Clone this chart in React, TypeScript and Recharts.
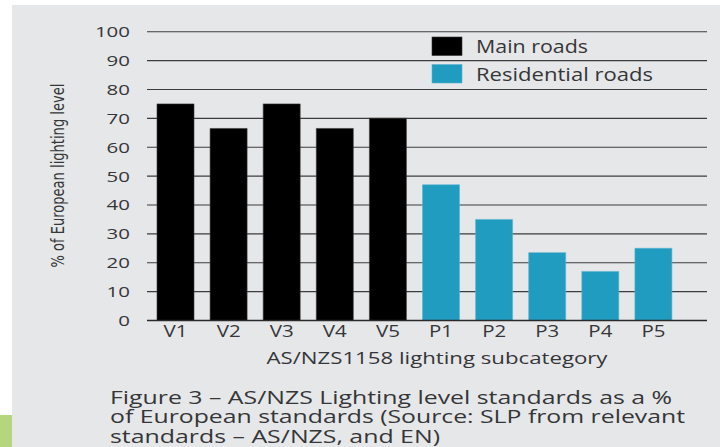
import React from 'react';
import { BarChart, Bar, XAxis, YAxis, CartesianGrid, Legend } from 'recharts';

const categories = ['V1', 'V2', 'V3', 'V4', 'V5', 'P1', 'P2', 'P3', 'P4', 'P5'];
const mainRoads: (number | null)[] = [75, 66.5, 75, 66.5, 70, null, null, null, null, null];
const residentialRoads: (number | null)[] = [null, null, null, null, null, 47, 35, 23.5, 17, 25];
const yTicks = [0, 10, 20, 30, 40, 50, 60, 70, 80, 90, 100];
const seriesNames = ['Main roads', 'Residential roads'];
const seriesColors = ['#000000', '#1f9cc0'];
const captionLines = [
  'Figure 3 \u2013 AS/NZS Lighting level standards as a %',
  'of European standards (Source: SLP from relevant',
  'standards \u2013 AS/NZS, and EN)',
];
const captionWidths = [562, 575, 330];
const legendWidths = [112, 177];

const data = categories.map((c, i) => ({ cat: c, main: mainRoads[i], res: residentialRoads[i] }));

const TEXT = '#353638';
const FONT = '"Open Sans", "Noto Sans", sans-serif';

const renderLegend = () => (
  <svg width={260} height={60} style={{ overflow: 'visible' }}>
    {seriesNames.map((n, i) => (
      <g key={n}>
        <rect x={0} y={i * 27.5} width={30} height={18.5} fill={seriesColors[i]} stroke={i === 0 ? '#333' : '#5ab3cf'} strokeWidth={0.6} />
        <text x={44} y={i * 27.5 + 16} fontSize={18.5} fontFamily={FONT} fill={TEXT}
          textLength={legendWidths[i]} lengthAdjust="spacingAndGlyphs">{n}</text>
      </g>
    ))}
  </svg>
);

const XTick = (props: any) => {
  const { x, y, payload } = props;
  const s = String(payload.value);
  return (
    <text x={x} y={y + 8.3} textAnchor="middle" fontSize={16.5} fontFamily={FONT} fill={TEXT}
      textLength={12 * s.length} lengthAdjust="spacingAndGlyphs">{s}</text>
  );
};

const YTick = (props: any) => {
  const { x, y, payload } = props;
  const s = String(payload.value);
  return (
    <text x={x} y={y + 5.5} textAnchor="end" fontSize={15} fontFamily={FONT} fill={TEXT}
      textLength={11.7 * s.length} lengthAdjust="spacingAndGlyphs">{s}</text>
  );
};

const XLabel = (props: any) => {
  const vb = props.viewBox || { x: 0, y: 0, width: 0, height: 0 };
  return (
    <text x={vb.x + vb.width / 2 + 10} y={363.5} textAnchor="middle" fontSize={16.5} fontFamily={FONT} fill={TEXT}
      textLength={341} lengthAdjust="spacingAndGlyphs">AS/NZS1158 lighting subcategory</text>
  );
};

const YLabel = (props: any) => {
  const vb = props.viewBox || { x: 0, y: 0, width: 0, height: 0 };
  const cy = vb.y + vb.height / 2 - 0.5;
  return (
    <text x={64} y={cy} transform={`rotate(-90 64 ${cy})`} textAnchor="middle" fontSize={18.5}
      fontFamily='"Liberation Sans Narrow", "DejaVu Sans Condensed", sans-serif' fill={TEXT}
      textLength={184} lengthAdjust="spacingAndGlyphs">% of European lighting level</text>
  );
};

export default function App() {
  return (
    <div style={{ position: 'fixed', left: 0, top: 0, width: 720, height: 447, background: '#ffffff', overflow: 'hidden' }}>
      <style>{'html,body{margin:0;padding:0;overflow:hidden;}'}</style>
      <div style={{ position: 'absolute', left: 12, top: 5, right: 0, bottom: 0, background: '#e6e7e9' }} />
      <div style={{ position: 'absolute', left: 0, top: 415, width: 12, height: 32, background: '#b4d67c' }} />
      <div style={{ position: 'absolute', left: 0, top: 0 }}>
        <BarChart width={720} height={447} data={data} margin={{ top: 31.7, right: 13, bottom: 86.5, left: 87 }}>
          <CartesianGrid vertical={false} stroke="#3c3c3c" strokeWidth={1.1} />
          <XAxis dataKey="cat" height={40} padding={{ left: 2, right: 27 }} tickLine={false}
            axisLine={{ stroke: '#2a2a2a', strokeWidth: 1.6 }} tick={<XTick />} interval={0}
            label={<XLabel />} />
          <YAxis width={60} domain={[0, 100]} ticks={yTicks} interval={0} tickLine={false} axisLine={false}
            tickSize={6} tickMargin={11} tick={<YTick />} label={<YLabel />} />
          <Legend layout="horizontal" verticalAlign="middle" align="center" content={renderLegend}
            wrapperStyle={{ position: 'absolute', left: 432, top: 37, width: 260, height: 60 }} />
          <Bar dataKey="main" name={seriesNames[0]} stackId="a" fill={seriesColors[0]} barSize={37} isAnimationActive={false} stroke="#3a3a3a" strokeWidth={0.6} />
          <Bar dataKey="res" name={seriesNames[1]} stackId="a" fill={seriesColors[1]} barSize={37} isAnimationActive={false} stroke="#5ab3cf" strokeWidth={0.6} />
        </BarChart>
      </div>
      <svg style={{ position: 'absolute', left: 0, top: 0 }} width={720} height={447}>
        {captionLines.map((l, i) => (
          <text key={i} x={110} y={404 + i * 19.4} fontSize={18.5} fontFamily={FONT} fill={TEXT}
            textLength={captionWidths[i]} lengthAdjust="spacingAndGlyphs">{l}</text>
        ))}
      </svg>
    </div>
  );
}
